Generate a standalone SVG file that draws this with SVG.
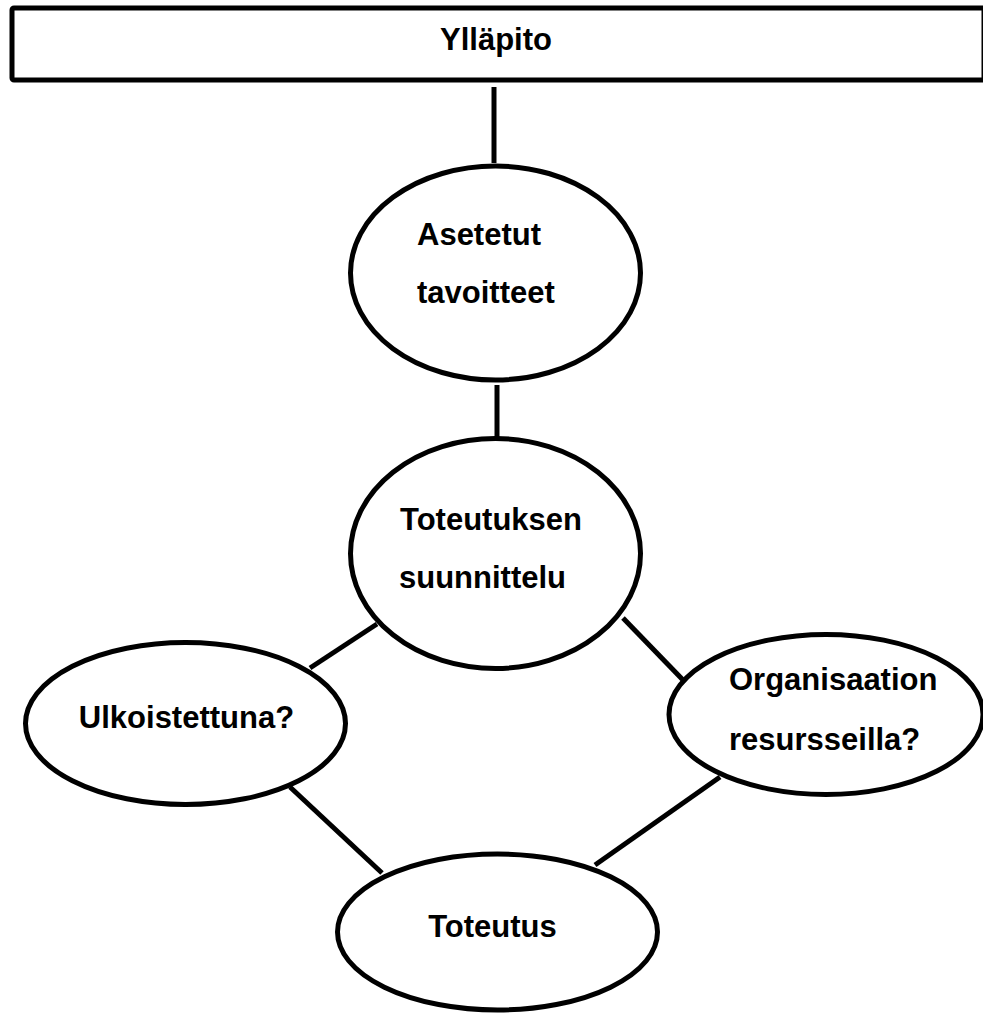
<svg xmlns="http://www.w3.org/2000/svg" width="983" height="1014" viewBox="0 0 983 1014">
<style>
.shape{fill:#fff;stroke:#000;stroke-width:5}
.conn line{stroke:#000;stroke-width:5}
text{font-family:"Liberation Sans",Arial,sans-serif;font-weight:bold;font-size:31px;fill:#000}
</style>
<rect width="983" height="1014" fill="#fff"/>
<g class="conn" id="connectors">
<line x1="494" y1="87" x2="494" y2="163"/>
<line x1="497" y1="385" x2="497" y2="437"/>
<line x1="377" y1="624" x2="310" y2="668"/>
<line x1="623" y1="618" x2="683" y2="680"/>
<line x1="290" y1="787" x2="382" y2="873"/>
<line x1="720" y1="777" x2="595" y2="865"/>
</g>
<g id="yllapito">
<rect class="shape" x="12" y="8" width="972" height="72" rx="2" stroke-width="6"/>
<text x="496" y="50" text-anchor="middle">Ylläpito</text>
</g>
<g id="asetetut">
<ellipse class="shape" cx="495.5" cy="273" rx="145" ry="107"/>
<text x="417" y="245">Asetetut</text>
<text x="417" y="303">tavoitteet</text>
</g>
<g id="suunnittelu">
<ellipse class="shape" cx="495.5" cy="553.5" rx="145" ry="115"/>
<text x="400" y="530">Toteutuksen</text>
<text x="399" y="588">suunnittelu</text>
</g>
<g id="ulkoistettuna">
<ellipse class="shape" cx="185.5" cy="723.5" rx="160" ry="81"/>
<text x="186.5" y="728" text-anchor="middle">Ulkoistettuna?</text>
</g>
<g id="organisaatio">
<ellipse class="shape" cx="826" cy="714.5" rx="157" ry="80"/>
<text x="729" y="690">Organisaation</text>
<text x="729" y="750">resursseilla?</text>
</g>
<g id="toteutus">
<ellipse class="shape" cx="497.5" cy="932" rx="160" ry="78"/>
<text x="492.5" y="937" text-anchor="middle">Toteutus</text>
</g>
</svg>
